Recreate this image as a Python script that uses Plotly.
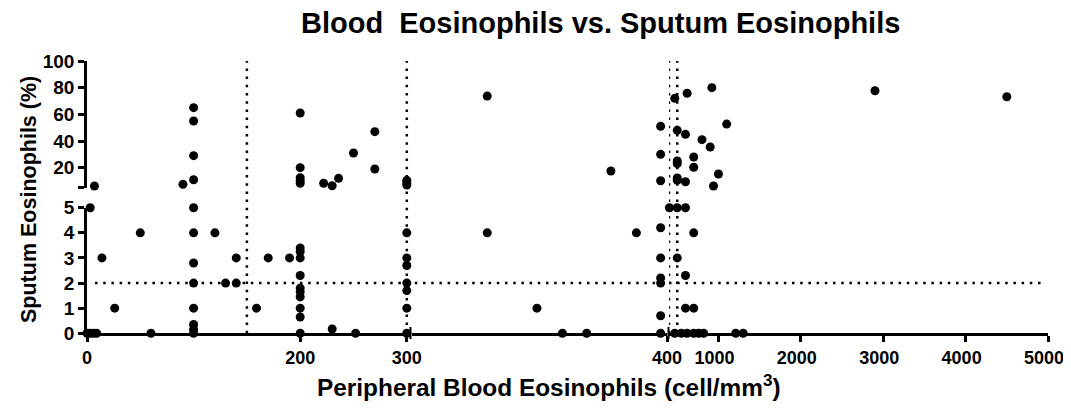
import plotly.graph_objects as go

# ---------------- data ----------------
blood_eos = [
    0, 3, 6, 9, 3, 7, 14, 26, 50, 60,
    100, 100, 100, 100, 100, 100, 100, 100, 100, 100, 100, 100,
    90, 120, 130, 140, 140, 159, 170, 190,
    200, 200, 200, 200, 200,
    200, 200, 200, 200, 200, 200, 200, 200, 200, 200,
    222, 230, 236, 250, 270, 270, 230, 252,
    300, 300, 300,
    300, 300, 300, 300, 300, 300, 300,
    329.5, 329.5, 349, 359, 368.5, 378, 388,
    397.5, 397.5, 397.5, 397.5, 397.5, 397.5, 397.5, 397.5, 397.5,
    405, 500, 600, 470, 620, 920, 1100, 500, 600, 800, 900, 700, 700,
    500, 500, 1000, 940, 500, 500, 600, 2900, 4500,
    700, 500, 600, 600, 700,
    470, 550, 620, 700, 760, 820, 1210, 1300,
]
sputum_eos = [
    0, 0, 0, 0, 5, 6.3, 3, 1, 4, 0,
    65, 55, 29, 11, 5, 4, 2.8, 2, 1, 0.35, 0.15, 0,
    7.5, 4, 2, 2, 3, 1, 3, 3,
    61, 20, 12.5, 10.2, 8.3,
    3.4, 3.25, 3.0, 2.3, 1.8, 1.65, 1.45, 1.0, 0.65, 0,
    8.3, 6.5, 12, 31, 47, 19, 0.17, 0,
    10.5, 8.5, 7,
    4, 3, 2.7, 2, 1.7, 1, 0,
    73.7, 4, 1, 0, 0, 17.5, 4,
    51, 30, 10.2, 4.2, 3, 2.2, 2.0, 0.7, 0,
    5, 5, 5, 72, 75.8, 80, 52.7, 48, 45, 41, 35.5, 28, 20.3,
    25, 23, 15.3, 6.3, 12.3, 10.5, 9.5, 77.7, 73.2,
    4, 3, 2.3, 1, 1,
    0, 0, 0, 0, 0, 0, 0, 0,
]

# axis segments (broken axes)
x_segments = [(0, 303), (300, 400), (400, 5000)]
y_segments = [(0, 5), (5, 100)]
x_ticks = [[0, 200, 300], [400], [1000, 2000, 3000, 4000, 5000]]
y_ticks = [[0, 1, 2, 3, 4, 5], [5, 20, 40, 60, 80, 100]]
y_ticktext = [["0", "1", "2", "3", "4", "5"], ["", "20", "40", "60", "80", "100"]]
v_ref_lines = [(150, 0), (300, 0), (400, 2), (500, 2)]  # (value, segment index)
h_ref_line = 2

title_text = "Blood\u00a0 Eosinophils vs. Sputum Eosinophils"
x_title = "Peripheral Blood Eosinophils (cell/mm<sup>3</sup>)"
y_title = "Sputum Eosinophils (%)"

# ---------------- layout geometry ----------------
# the page body adds an 8px margin on the top/left
OFF = 8
W, H = 1071 - OFF, 408 - OFF
def px(xp):
    return (xp - OFF) / W
def py(yp):
    return 1 - (yp - OFF) / H

x_domains = [[px(87), px(410)], [px(412), px(667)], [px(669), px(1048)]]
y_domains = [[py(333.3), py(207.7)], [py(187.7), py(61)]]
x_label_shift = [0, 0, -4]

FONT = "Arial, Liberation Sans, sans-serif"

def seg_x(v):
    if v <= 303:
        return 0
    if v < 400:
        return 1
    return 2

def seg_y(v):
    return 0 if v <= 5 else 1

fig = go.Figure()
for xi in range(3):
    for yi in range(2):
        xs = [x for x, y in zip(blood_eos, sputum_eos) if seg_x(x) == xi and seg_y(y) == yi]
        ys = [y for x, y in zip(blood_eos, sputum_eos) if seg_x(x) == xi and seg_y(y) == yi]
        fig.add_trace(go.Scatter(
            x=xs, y=ys, mode="markers",
            xaxis="x" if xi == 0 else f"x{xi+1}",
            yaxis="y" if yi == 0 else "y2",
            marker=dict(size=9, color="black"),
            cliponaxis=False, showlegend=False, hoverinfo="x+y",
        ))

axis_common = dict(
    showline=True, linecolor="black", linewidth=2.5,
    ticks="outside", ticklen=6, tickwidth=2.5, tickcolor="black",
    showgrid=False, zeroline=False, automargin=False,
    ticklabeloverflow="allow",
)

layout = dict(
    width=W, height=H, autosize=False,
    margin=dict(l=0, r=0, t=0, b=0, pad=0, autoexpand=False),
    paper_bgcolor="white", plot_bgcolor="white",
    showlegend=False,
)
for xi in range(3):
    name = "xaxis" if xi == 0 else f"xaxis{xi+1}"
    layout[name] = dict(
        axis_common, domain=x_domains[xi], range=list(x_segments[xi]),
        anchor="y", tickmode="array", tickvals=x_ticks[xi],
        ticktext=[str(t) for t in x_ticks[xi]],
        ticklabelshift=x_label_shift[xi],
        tickfont=dict(family=FONT, size=18, color="black", weight="bold"),
    )
for yi in range(2):
    name = "yaxis" if yi == 0 else "yaxis2"
    layout[name] = dict(
        axis_common, domain=y_domains[yi], range=list(y_segments[yi]),
        anchor="x", tickmode="array", tickvals=y_ticks[yi], ticktext=y_ticktext[yi],
        tickfont=dict(family=FONT, size=19, color="black", weight="bold"),
    )
fig.update_layout(**layout)

dotted = dict(color="black", width=2.5, dash="2.5px,5.7px")
for val, si in v_ref_lines:
    fig.add_shape(type="line", xref="x" if si == 0 else f"x{si+1}", yref="paper",
                  x0=val, x1=val, y0=y_domains[0][0], y1=y_domains[1][1],
                  line=dotted, layer="below")
fig.add_shape(type="line", xref="paper", yref="y", x0=px(95), x1=px(1045),
              y0=h_ref_line, y1=h_ref_line, line=dotted, layer="below")

# axis break marks
for bx in [410.5, 668.5]:
    fig.add_shape(type="line", xref="paper", yref="paper", x0=px(bx), x1=px(bx),
                  y0=py(339), y1=py(327), line=dict(color="black", width=2))

fig.add_annotation(text=title_text, x=px(600), y=py(23), xref="paper", yref="paper",
                   showarrow=False, xanchor="center", yanchor="middle",
                   font=dict(family=FONT, size=29, color="black", weight="bold"))
fig.add_annotation(text=x_title, x=px(549), y=py(386), xref="paper", yref="paper",
                   showarrow=False, xanchor="center", yanchor="middle",
                   font=dict(family=FONT, size=24.4, color="black", weight="bold"))
fig.add_annotation(text=y_title, x=px(29), y=py(200), xref="paper", yref="paper",
                   showarrow=False, xanchor="center", yanchor="middle", textangle=-90,
                   font=dict(family=FONT, size=21.5, color="black", weight="bold"))

fig.write_html("out.html", config={"responsive": False})
